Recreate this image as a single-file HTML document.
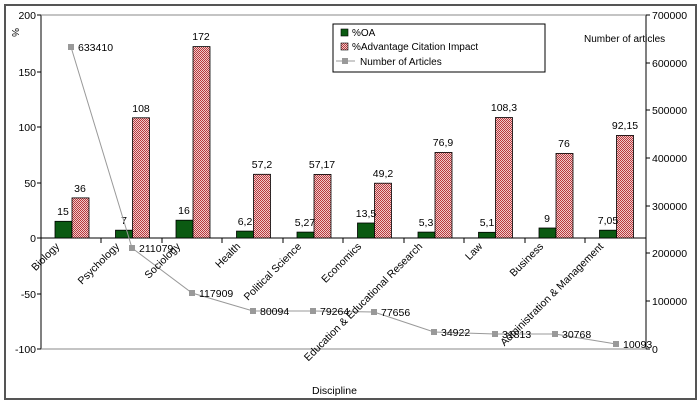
<!DOCTYPE html>
<html><head><style>body{margin:0;background:#fff}svg{display:block;font-family:"Liberation Sans",Arial,sans-serif}</style></head><body>
<svg width="700" height="403" viewBox="0 0 700 403">
<defs><pattern id="chk" width="2" height="2" patternUnits="userSpaceOnUse"><rect width="2" height="2" fill="#f0cccc"/><rect width="1" height="1" fill="#b8383c"/><rect x="1" y="1" width="1" height="1" fill="#b8383c"/></pattern></defs>
<rect x="5" y="5" width="691" height="394" fill="#fff" stroke="#555" stroke-width="2"/>
<g stroke="#000" stroke-width="1" fill="none">
<line x1="41" y1="15" x2="41" y2="349"/>
<line x1="646" y1="15" x2="646" y2="349"/>
<line x1="41" y1="15" x2="646" y2="15" stroke="#888"/>
<line x1="41" y1="238" x2="646" y2="238"/>
<line x1="41" y1="349" x2="646" y2="349" stroke="#888"/>
</g>
<g font-size="10.5" text-anchor="end" fill="#000">
<text x="36" y="19">200</text><text x="36" y="76">150</text><text x="36" y="131">100</text><text x="36" y="187">50</text><text x="36" y="242">0</text><text x="36" y="298">-50</text><text x="36" y="353">-100</text>
</g>
<g stroke="#000"><line x1="37" y1="15" x2="41" y2="15"/><line x1="37" y1="72" x2="41" y2="72"/><line x1="37" y1="127" x2="41" y2="127"/><line x1="37" y1="183" x2="41" y2="183"/><line x1="37" y1="238" x2="41" y2="238"/><line x1="37" y1="294" x2="41" y2="294"/><line x1="37" y1="349" x2="41" y2="349"/>
<line x1="646" y1="15" x2="650" y2="15"/><line x1="646" y1="63" x2="650" y2="63"/><line x1="646" y1="110" x2="650" y2="110"/><line x1="646" y1="158" x2="650" y2="158"/><line x1="646" y1="206" x2="650" y2="206"/><line x1="646" y1="253" x2="650" y2="253"/><line x1="646" y1="301" x2="650" y2="301"/><line x1="646" y1="349" x2="650" y2="349"/></g>
<g font-size="10.5" fill="#000">
<text x="652" y="19">700000</text><text x="652" y="67">600000</text><text x="652" y="114">500000</text><text x="652" y="162">400000</text><text x="652" y="210">300000</text><text x="652" y="257">200000</text><text x="652" y="305">100000</text><text x="652" y="353">0</text>
<text x="584" y="42" font-size="10">Number of articles</text>
<text x="14" y="34" font-size="10" transform="rotate(90 16 30)">%</text>
<text x="312" y="394">Discipline</text>
</g>
<g stroke="#000">
<line x1="101" y1="238" x2="101" y2="243"/><line x1="162" y1="238" x2="162" y2="243"/><line x1="222" y1="238" x2="222" y2="243"/><line x1="283" y1="238" x2="283" y2="243"/><line x1="343" y1="238" x2="343" y2="243"/><line x1="404" y1="238" x2="404" y2="243"/><line x1="464" y1="238" x2="464" y2="243"/><line x1="525" y1="238" x2="525" y2="243"/><line x1="585" y1="238" x2="585" y2="243"/>
</g>
<g stroke="#000" stroke-width="0.8">
<rect x="55" y="221.3" width="17" height="16.7" fill="#0b5a12"/><rect x="72" y="197.9" width="17" height="40.1" fill="url(#chk)"/>
<rect x="115.5" y="230.2" width="17" height="7.8" fill="#0b5a12"/><rect x="132.5" y="117.8" width="17" height="120.2" fill="url(#chk)"/>
<rect x="176" y="220.2" width="17" height="17.8" fill="#0b5a12"/><rect x="193" y="46.6" width="17" height="191.4" fill="url(#chk)"/>
<rect x="236.5" y="231.1" width="17" height="6.9" fill="#0b5a12"/><rect x="253.5" y="174.3" width="17" height="63.7" fill="url(#chk)"/>
<rect x="297" y="232.1" width="17" height="5.9" fill="#0b5a12"/><rect x="314" y="174.4" width="17" height="63.6" fill="url(#chk)"/>
<rect x="357.5" y="223" width="17" height="15" fill="#0b5a12"/><rect x="374.5" y="183.2" width="17" height="54.8" fill="url(#chk)"/>
<rect x="418" y="232.1" width="17" height="5.9" fill="#0b5a12"/><rect x="435" y="152.4" width="17" height="85.6" fill="url(#chk)"/>
<rect x="478.5" y="232.3" width="17" height="5.7" fill="#0b5a12"/><rect x="495.5" y="117.5" width="17" height="120.5" fill="url(#chk)"/>
<rect x="539" y="228" width="17" height="10" fill="#0b5a12"/><rect x="556" y="153.4" width="17" height="84.6" fill="url(#chk)"/>
<rect x="599.5" y="230.2" width="17" height="7.8" fill="#0b5a12"/><rect x="616.5" y="135.4" width="17" height="102.6" fill="url(#chk)"/>
</g>
<g font-size="10.5" text-anchor="middle" fill="#000">
<text x="63" y="215">15</text><text x="80" y="192">36</text>
<text x="124" y="224">7</text><text x="141" y="112">108</text>
<text x="184" y="214">16</text><text x="201" y="40">172</text>
<text x="245" y="225">6,2</text><text x="262" y="168">57,2</text>
<text x="305" y="226">5,27</text><text x="322" y="168">57,17</text>
<text x="366" y="217">13,5</text><text x="383" y="177">49,2</text>
<text x="426" y="226">5,3</text><text x="443" y="146">76,9</text>
<text x="487" y="226">5,1</text><text x="504" y="111">108,3</text>
<text x="547" y="222">9</text><text x="564" y="147">76</text>
<text x="608" y="224">7,05</text><text x="625" y="129">92,15</text>
</g>
<polyline fill="none" stroke="#999" stroke-width="1" points="71,47 132,248 192,293 253,311 313,311 374,312 434,332 495,334 555,334 616,344"/>
<g fill="#999"><rect x="68" y="44" width="6" height="6"/><rect x="129" y="245" width="6" height="6"/><rect x="189" y="290" width="6" height="6"/><rect x="250" y="308" width="6" height="6"/><rect x="310" y="308" width="6" height="6"/><rect x="371" y="309" width="6" height="6"/><rect x="431" y="329" width="6" height="6"/><rect x="492" y="331" width="6" height="6"/><rect x="552" y="331" width="6" height="6"/><rect x="613" y="341" width="6" height="6"/></g>
<g font-size="10.5" fill="#000">
<text x="78" y="51">633410</text><text x="139" y="252">211079</text><text x="199" y="297">117909</text><text x="260" y="315">80094</text><text x="320" y="315">79264</text><text x="381" y="316">77656</text><text x="441" y="336">34922</text><text x="502" y="338">31813</text><text x="562" y="338">30768</text><text x="623" y="348">10093</text>
</g>
<g font-size="10.5" text-anchor="end" fill="#000">
<text transform="translate(60,247) rotate(-45)">Biology</text>
<text transform="translate(120,247) rotate(-45)">Psychology</text>
<text transform="translate(181,247) rotate(-45)">Sociology</text>
<text transform="translate(241,247) rotate(-45)">Health</text>
<text transform="translate(302,247) rotate(-45)">Political Science</text>
<text transform="translate(362,247) rotate(-45)">Economics</text>
<text transform="translate(423,247) rotate(-45)">Education &amp; Educational Research</text>
<text transform="translate(483,247) rotate(-45)">Law</text>
<text transform="translate(544,247) rotate(-45)">Business</text>
<text transform="translate(604,247) rotate(-45)">Administration &amp; Management</text>
</g>
<rect x="333" y="24" width="212" height="48" fill="#fff" stroke="#000"/>
<rect x="341" y="29" width="7" height="7" fill="#0b5a12" stroke="#000" stroke-width="0.6"/>
<rect x="341" y="43" width="7" height="7" fill="url(#chk)" stroke="#000" stroke-width="0.6"/>
<line x1="336" y1="61" x2="355" y2="61" stroke="#999"/><rect x="342" y="58" width="6" height="6" fill="#999"/>
<g font-size="10" fill="#000"><text x="352" y="36">%OA</text><text x="352" y="50">%Advantage Citation Impact</text><text x="360" y="65">Number of Articles</text></g>
</svg>
</body></html>
